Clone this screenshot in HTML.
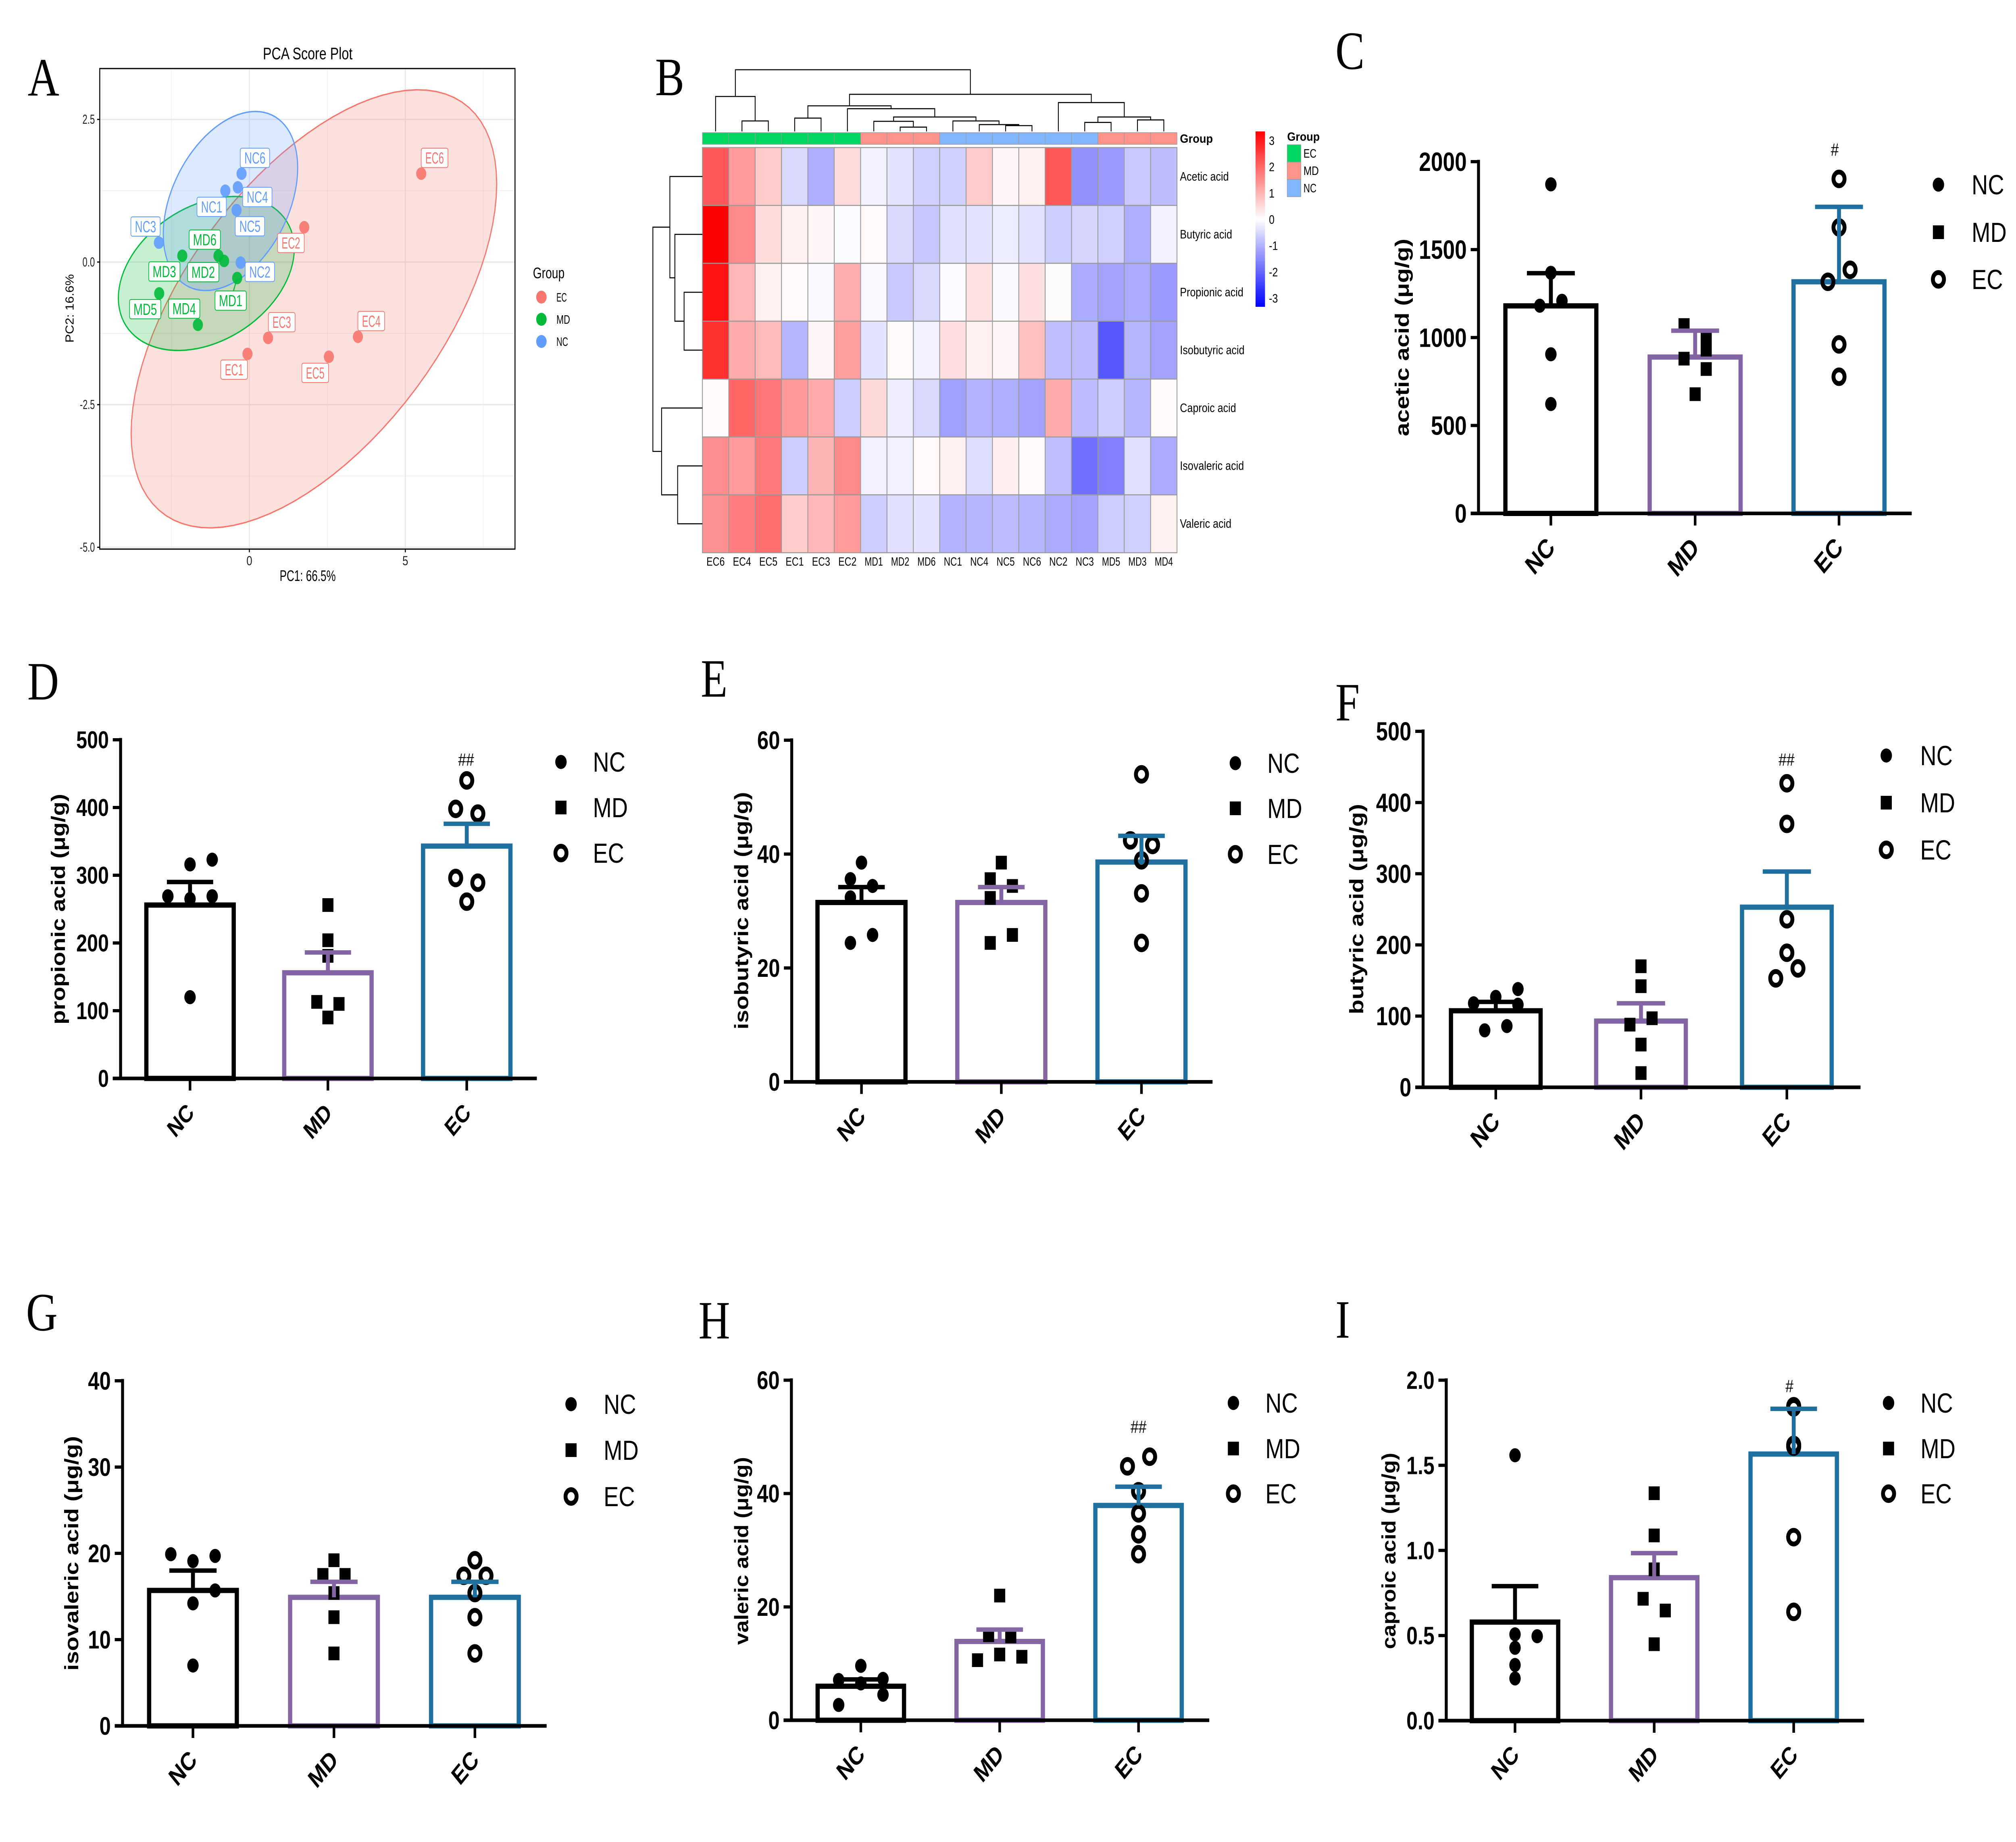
<!DOCTYPE html>
<html lang="en">
<head>
<meta charset="utf-8">
<title>SCFA PCA, heatmap and bar charts</title>
<style>
html,body{margin:0;padding:0;background:#fff;width:100%;overflow-x:hidden;}
svg{display:block;width:100%;height:4569px;font-family:"Liberation Sans",sans-serif;}
</style>
</head>
<body>
<svg id="figure" xmlns="http://www.w3.org/2000/svg" viewBox="0 0 6185 4569" preserveAspectRatio="none">
<rect x="0" y="0" width="6185" height="4569" fill="#fff"/>
</svg>
<script>
/* ---------- bar chart data ---------- */
const groups = ['NC', 'MD', 'EC'];

const aceticTicks = ['0', '500', '1000', '1500', '2000'];
const aceticMeans = [1180, 889, 1317];
const aceticUpper = [1366, 1039, 1743];
const aceticNC = [1871, 1368, 1209, 1181, 905, 622];
const aceticMD = [1071, 1006, 931, 880, 821, 678];
const aceticEC = [1902, 1626, 1385, 1317, 961, 777];
const aceticNCJitter = [0, 0, 1, -1, 0, 0];
const aceticMDJitter = [-1, 1, 1, -1, 1, 0];
const aceticECJitter = [0, 0, 1, -1, 0, 0];

const propionicTicks = ['0', '100', '200', '300', '400', '500'];
const propionicMeans = [256, 156, 343];
const propionicUpper = [290, 186, 376];
const propionicNC = [316, 323, 269, 265, 269, 120];
const propionicMD = [256, 204, 181, 113, 110, 90];
const propionicEC = [440, 398, 391, 296, 289, 261];
const propionicNCJitter = [0, 2, -2, 0, 2, 0];
const propionicMDJitter = [0, 0, 0, -1, 1, 0];
const propionicECJitter = [0, -1, 1, -1, 1, 0];

const isobutyricTicks = ['0', '20', '40', '60'];
const isobutyricMeans = [31.5, 31.5, 38.6];
const isobutyricUpper = [34.2, 34.2, 43.2];
const isobutyricNC = [38.5, 35.6, 34.4, 32.4, 25.8, 24.4];
const isobutyricMD = [38.5, 35.6, 34.4, 32.3, 25.8, 24.4];
const isobutyricEC = [54, 42.4, 41.6, 38.9, 33.1, 24.4];
const isobutyricNCJitter = [0, -1, 1, -1, 1, -1];
const isobutyricMDJitter = [0, -1, 1, -1, 1, -1];
const isobutyricECJitter = [0, -1, 1, 0, 0, 0];

const butyricTicks = ['0', '100', '200', '300', '400', '500'];
const butyricMeans = [107.5, 93, 253];
const butyricUpper = [120, 118, 303];
const butyricNC = [138, 127, 118, 116, 86, 80];
const butyricMD = [170, 142, 97, 88, 60, 20];
const butyricEC = [427, 370, 236, 189, 167, 153];
const butyricNCJitter = [2, 0, -2, 2, 1, -1];
const butyricMDJitter = [0, 0, 1, -1, 0, 0];
const butyricECJitter = [0, 0, 0, 0, 1, -1];

const isovalericTicks = ['0', '10', '20', '30', '40'];
const isovalericMeans = [15.7, 14.9, 14.9];
const isovalericUpper = [18, 16.7, 16.7];
const isovalericNC = [19.9, 19.7, 19.1, 15.7, 14.2, 7.0];
const isovalericMD = [19.2, 17.5, 17.5, 15.4, 12.6, 8.4];
const isovalericEC = [19.2, 17.4, 17.4, 15.4, 12.6, 8.4];
const isovalericNCJitter = [-2, 2, 0, 2, 0, 0];
const isovalericMDJitter = [0, -1, 1, 0, 0, 0];
const isovalericECJitter = [0, -1, 1, 0, 0, 0];

const valericTicks = ['0', '20', '40', '60'];
const valericMeans = [6.0, 13.9, 37.9];
const valericUpper = [7.2, 16, 41.2];
const valericNC = [9.6, 7.1, 7.3, 6.5, 4.5, 2.7];
const valericMD = [22, 15, 14.8, 11.6, 11.2, 10.6];
const valericEC = [46.5, 44.8, 40.4, 36.5, 32.8, 29.3];
const valericNCJitter = [0, -2, 2, 0, 2, -2];
const valericMDJitter = [0, -1, 1, 0, 2, -2];
const valericECJitter = [1, -1, 0, 0, 0, 0];

const caproicTicks = ['0.0', '0.5', '1.0', '1.5', '2.0'];
const caproicMeans = [0.579, 0.84, 1.566];
const caproicUpper = [0.79, 0.984, 1.832];
const caproicNC = [1.559, 0.507, 0.496, 0.428, 0.327, 0.248];
const caproicMD = [1.336, 1.088, 0.889, 0.716, 0.647, 0.449];
const caproicEC = [1.847, 1.84, 1.62, 1.61, 1.078, 0.639];
const caproicNCJitter = [0, 0, 2, 0, 0, 0];
const caproicMDJitter = [0, 0, 0, -1, 1, 0];
const caproicECJitter = [0, 0, 0, 0, 0, 0];

/* ---------- PCA data ---------- */
const pcaSamples = ['EC1','EC2','EC3','EC4','EC5','EC6','MD1','MD2','MD3','MD4','MD5','MD6','NC1','NC2','NC3','NC4','NC5','NC6'];
const pcaGroups = ['EC','EC','EC','EC','EC','EC','MD','MD','MD','MD','MD','MD','NC','NC','NC','NC','NC','NC'];
const pcaPC1 = [-0.06, 1.76, 0.60, 3.48, 2.55, 5.51, -0.39, -0.81, -2.15, -1.65, -2.89, -0.99, -0.77, -0.28, -2.90, -0.37, -0.41, -0.25];
const pcaPC2 = [-1.61, 0.61, -1.33, -1.31, -1.66, 1.55, -0.28, 0.02, 0.11, -1.10, -0.55, 0.11, 1.25, -0.01, 0.34, 1.31, 0.91, 1.55];
const pcaEllipseGroups = ['EC', 'MD', 'NC'];
const pcaEllipseCenterX = [2.07, -1.38, -0.605];
const pcaEllipseCenterY = [-0.82, -0.2, 1.07];
const pcaEllipseSpreadX = [5.86, 2.82, 2.155];
const pcaEllipseSpreadY = [3.84, 1.35, 1.57];
const pcaEllipseCorr = [0.57, 0.32, 0.37];
const pcaXTicks = ['0', '5'];
const pcaYTicks = ['2.5', '0.0', '-2.5', '-5.0'];

/* ---------- heatmap data ---------- */
const heatColumns = ['EC6','EC4','EC5','EC1','EC3','EC2','MD1','MD2','MD6','NC1','NC4','NC5','NC6','NC2','NC3','MD5','MD3','MD4'];
const heatColumnGroups = ['EC','EC','EC','EC','EC','EC','MD','MD','MD','NC','NC','NC','NC','NC','NC','MD','MD','MD'];
const heatRows = ['Acetic acid','Butyric acid','Propionic acid','Isobutyric acid','Caproic acid','Isovaleric acid','Valeric acid'];
const heatAcetic = [2.2,1.3,0.67,-0.5,-1.05,0.45,-0.2,-0.35,-0.6,-0.6,0.67,0.1,0.2,2.2,-1.45,-1.3,-0.7,-0.85];
const heatButyric = [3.3,1.55,0.45,0.2,0.1,-0.05,0.08,-0.5,-0.75,-0.4,-0.35,-0.25,-0.38,-0.65,-0.55,-0.6,-1.05,-0.17];
const heatPropionic = [3.1,0.95,0.2,0.05,-0.08,1.05,-0.08,-0.7,-0.5,-0.06,0.37,-0.08,0.4,-0.04,-1.1,-1.2,-1.1,-1.3];
const heatIsobutyric = [2.7,1.1,0.9,-0.95,0.1,1.25,-0.35,0.05,-0.2,0.42,0.2,0.1,0.83,-0.83,-0.88,-2.2,-0.95,-1.2];
const heatCaproic = [0.05,2.0,1.77,1.35,1.1,-0.65,0.5,-0.23,-0.5,-1.25,-1.0,-1.05,-1.2,1.1,-0.88,-0.65,-0.95,0.05];
const heatIsovaleric = [1.5,1.3,1.75,-0.65,0.98,1.55,-0.2,-0.2,0.08,0.2,-0.45,0.22,0.06,-0.83,-1.9,-1.65,-0.4,-1.1];
const heatValeric = [1.45,1.7,1.9,0.67,0.93,1.3,-0.65,-0.4,-0.35,-1.0,-0.95,-0.88,-0.95,-1.1,-1.2,-0.65,-0.6,0.2];
const heatScaleTicks = ['3', '2', '1', '0', '-1', '-2', '-3'];
/* dendrograms: [distance, left, right]; a bare number is a leaf index */
const columnTree = [10,
  [5.67, 0, [1.70, 1, 2]],
  [6.02,
    [4.15, [2.16, 3, 4], [3.68, 5, [2.34, [1.64, 6, [0.70, 7, 8]], [1.70, 9, [1.11, 10, [0.94, 11, 12]]]]]],
    [4.68, 13, [2.34, [1.46, 14, 15], [1.87, 16, 17]]]
  ]
];
const rowTree = [10,
  [6.57, 0, [5.56, 1, [3.70, 2, 3]]],
  [8.24, 4, [5.0, 5, 6]]
];

/* ---------- layout (pixels, separate from data) ---------- */
const barColors = ['#000000', '#8566A5', '#1F6F9F'];
const pointKinds = ['circle', 'square', 'ring'];
const jitterStep = 34;
const barPanels = [
  {key:'acetic', letter:'C', lx:4097, ly:171, title:'acetic acid (μg/g)', tx:4306, ty:837, tl:490, x0:4536, y0:1273.5, top:401, end:5865, c:[4758,5200.6,5642], bw:292, cap:147, fs:66,
   ticks:aceticTicks, means:aceticMeans, upper:aceticUpper, pts:[aceticNC,aceticMD,aceticEC], jit:[aceticNCJitter,aceticMDJitter,aceticECJitter],
   legX:5947, legTX:6049, legY:[458,576,693], hash:'#', hx:5629, hy:386},
  {key:'propionic', letter:'D', lx:84, ly:1735, title:'propionic acid (μg/g)', tx:183, ty:2255, tl:572, x0:370, y0:2675, top:1835, end:1647, c:[583,1006,1432], bw:281, cap:142, fs:60,
   ticks:propionicTicks, means:propionicMeans, upper:propionicUpper, pts:[propionicNC,propionicMD,propionicEC], jit:[propionicNCJitter,propionicMDJitter,propionicECJitter],
   legX:1721, legTX:1819, legY:[1890,2003,2116], hash:'##', hx:1430, hy:1899},
  {key:'isobutyric', letter:'E', lx:2150, ly:1728, title:'isobutyric acid (μg/g)', tx:2279, ty:2259, tl:589, x0:2429, y0:2683.5, top:1836, end:3720, c:[2643,3072,3502], bw:283, cap:143, fs:63,
   ticks:isobutyricTicks, means:isobutyricMeans, upper:isobutyricUpper, pts:[isobutyricNC,isobutyricMD,isobutyricEC], jit:[isobutyricNCJitter,isobutyricMDJitter,isobutyricECJitter],
   legX:3790, legTX:3888, legY:[1893,2005,2119], hash:'', hx:0, hy:0},
  {key:'butyric', letter:'F', lx:4097, ly:1787, title:'butyric acid (μg/g)', tx:4166, ty:2255, tl:522, x0:4366, y0:2697, top:1814, end:5708, c:[4589,5034.5,5482], bw:288, cap:148, fs:65,
   ticks:butyricTicks, means:butyricMeans, upper:butyricUpper, pts:[butyricNC,butyricMD,butyricEC], jit:[butyricNCJitter,butyricMDJitter,butyricECJitter],
   legX:5787, legTX:5891, legY:[1874,1991,2108], hash:'##', hx:5481, hy:1899},
  {key:'isovaleric', letter:'G', lx:80, ly:3300, title:'isovaleric acid (μg/g)', tx:224, ty:3853, tl:582, x0:376, y0:4281, top:3425, end:1677, c:[592,1024.6,1457], bw:282, cap:145, fs:63,
   ticks:isovalericTicks, means:isovalericMeans, upper:isovalericUpper, pts:[isovalericNC,isovalericMD,isovalericEC], jit:[isovalericNCJitter,isovalericMDJitter,isovalericECJitter],
   legX:1752, legTX:1852, legY:[3483,3597,3712], hash:'', hx:0, hy:0},
  {key:'valeric', letter:'H', lx:2143, ly:3320, title:'valeric acid (μg/g)', tx:2279, ty:3847, tl:466, x0:2428, y0:4267, top:3423.5, end:3710, c:[2641,3067,3493], bw:278, cap:143, fs:63,
   ticks:valericTicks, means:valericMeans, upper:valericUpper, pts:[valericNC,valericMD,valericEC], jit:[valericNCJitter,valericMDJitter,valericECJitter],
   legX:3784, legTX:3882, legY:[3480,3593,3705], hash:'##', hx:3493, hy:3554},
  {key:'caproic', letter:'I', lx:4097, ly:3318, title:'caproic acid (μg/g)', tx:4265, ty:3847, tl:487, x0:4437, y0:4268, top:3423.5, end:5719, c:[4648,5075,5503], bw:278, cap:143, fs:62,
   ticks:caproicTicks, means:caproicMeans, upper:caproicUpper, pts:[caproicNC,caproicMD,caproicEC], jit:[caproicNCJitter,caproicMDJitter,caproicECJitter],
   legX:5794, legTX:5892, legY:[3480,3593,3705], hash:'#', hx:5490, hy:3453}
];
const pcaLabelOffsets = {EC1:[-41,39],EC2:[-41,39],EC3:[42,-39],EC4:[41,-39],EC5:[-42,40],EC6:[41,-39],MD1:[-20,56],MD2:[-64,28],MD3:[-55,39],MD4:[-42,-40],MD5:[-43,39],MD6:[-42,-40],NC1:[-42,40],NC2:[59,23],NC3:[-41,-40],NC4:[60,24],NC5:[41,40],NC6:[41,-39]};
const pcaColors = {EC:'#F8766D', MD:'#00BA38', NC:'#619CFF'};
const heatGroupColors = {EC:'#00D65F', MD:'#FF9289', NC:'#82B6FF'};

/* ---------- helpers ---------- */
const NS = 'http://www.w3.org/2000/svg';
const figure = document.getElementById('figure');
function make(tag, attrs, parent) {
  const el = document.createElementNS(NS, tag);
  for (const k in attrs) el.setAttribute(k, attrs[k]);
  parent.appendChild(el);
  return el;
}
function makeText(str, attrs, parent) {
  const el = make('text', attrs, parent);
  el.textContent = str;
  return el;
}
function makeGroup(parent) {
  return make('g', {}, parent);
}
function fitAttrs(attrs, len) {
  attrs.textLength = len;
  attrs.lengthAdjust = 'spacingAndGlyphs';
  return attrs;
}

/* ---------- panel letters ---------- */
const panelLetters = ['A', 'B'];
const panelLetterX = [85, 2010];
const panelLetterY = [237, 236];
panelLetters.forEach(function (letter, i) {
  const el = makeText(letter, {x: panelLetterX[i], y: panelLetterY[i], 'font-family': '"Liberation Serif",serif', 'font-size': 134, fill: '#000'}, figure);
  
  
});

/* ---------- Panel A: PCA ---------- */
(function drawPCA() {
  const plot = {l: 306, r: 1580, t: 170, b: 1362};
  const xS = function (v) { return 765 + v * 95.7; };
  const yS = function (v) { return 650 - v * 141.5; };
  const g = makeGroup(figure);
  
  

  const bg = make('rect', {x: plot.l, y: plot.t, width: plot.r - plot.l, height: plot.b - plot.t, fill: '#fff'}, g);
  
  

  [-2.5, 2.5, 7.5].forEach(function (v) {
    const el = make('line', {x1: xS(v), x2: xS(v), y1: plot.t, y2: plot.b, stroke: '#eeeeee', 'stroke-width': 1.6}, g);
    
    
  });
  [1.25, -1.25, -3.75].forEach(function (v) {
    const el = make('line', {x1: plot.l, x2: plot.r, y1: yS(v), y2: yS(v), stroke: '#eeeeee', 'stroke-width': 1.6}, g);
    
    
  });
  pcaXTicks.forEach(function (t) {
    const v = Number(t);
    const grid = make('line', {x1: xS(v), x2: xS(v), y1: plot.t, y2: plot.b, stroke: '#e8e8e8', 'stroke-width': 3.2}, g);
    
    
    const tick = make('line', {x1: xS(v), x2: xS(v), y1: plot.b, y2: plot.b + 8, stroke: '#000', 'stroke-width': 3}, g);
    
    
    const lab = makeText(t, {x: xS(v), y: 1402, 'text-anchor': 'middle', 'font-size': 32, fill: '#222'}, g);
    
    
  });
  pcaYTicks.forEach(function (t) {
    const v = Number(t);
    const grid = make('line', {x1: plot.l, x2: plot.r, y1: yS(v), y2: yS(v), stroke: '#e8e8e8', 'stroke-width': 3.2}, g);
    
    
    const tick = make('line', {x1: plot.l - 8, x2: plot.l, y1: yS(v), y2: yS(v), stroke: '#000', 'stroke-width': 3}, g);
    
    
    const lab = makeText(t, fitAttrs({x: 291, y: yS(v) + 11, 'text-anchor': 'end', 'font-size': 32, fill: '#222'}, t.length > 3 ? 46 : 38), g);
    
    
  });

  pcaEllipseGroups.forEach(function (grp, i) {
    const phi = Math.acos(pcaEllipseCorr[i]);
    const pts = [];
    for (let k = 0; k < 90; k++) {
      const t = k / 90 * 2 * Math.PI;
      const px = pcaEllipseCenterX[i] + pcaEllipseSpreadX[i] * Math.cos(t);
      const py = pcaEllipseCenterY[i] + pcaEllipseSpreadY[i] * Math.cos(t - phi);
      pts.push(xS(px).toFixed(1) + ',' + yS(py).toFixed(1));
    }
    const el = make('polygon', {points: pts.join(' '), fill: pcaColors[grp], 'fill-opacity': 0.22, stroke: pcaColors[grp], 'stroke-width': 3.4}, g);
    
    
  });

  pcaSamples.forEach(function (s, i) {
    const el = make('circle', {cx: xS(pcaPC1[i]), cy: yS(pcaPC2[i]), r: 15.5, fill: pcaColors[pcaGroups[i]], 'fill-opacity': 0.9}, g);
    
    
  });
  const md1 = pcaSamples.indexOf('MD1');
  const connector = make('line', {x1: xS(pcaPC1[md1]), y1: yS(pcaPC2[md1]), x2: xS(pcaPC1[md1]) + pcaLabelOffsets.MD1[0], y2: yS(pcaPC2[md1]) + pcaLabelOffsets.MD1[1], stroke: pcaColors.MD, 'stroke-width': 3}, g);
  
  

  const boxW = {EC: 82, MD: 96, NC: 90};
  const txtW = {EC: 57, MD: 72, NC: 65};
  pcaSamples.forEach(function (s, i) {
    const grp = pcaGroups[i];
    const cx = xS(pcaPC1[i]) + pcaLabelOffsets[s][0];
    const cy = yS(pcaPC2[i]) + pcaLabelOffsets[s][1];
    const box = make('rect', {x: cx - boxW[grp] / 2, y: cy - 24, width: boxW[grp], height: 48, rx: 5, ry: 5, fill: '#fff', stroke: pcaColors[grp], 'stroke-width': 2}, g);
    
    
    const lab = makeText(s, fitAttrs({x: cx, y: cy + 14, 'text-anchor': 'middle', 'font-size': 40, fill: pcaColors[grp]}, txtW[grp]), g);
    
    
  });

  const frame = make('rect', {x: plot.l, y: plot.t, width: plot.r - plot.l, height: plot.b - plot.t, fill: 'none', stroke: '#000', 'stroke-width': 3}, g);
  
  

  const title = makeText('PCA Score Plot', fitAttrs({x: 944, y: 147, 'text-anchor': 'middle', 'font-size': 42, fill: '#000'}, 275), g);
  
  
  const xTitle = makeText('PC1: 66.5%', fitAttrs({x: 944, y: 1441, 'text-anchor': 'middle', 'font-size': 38, fill: '#000'}, 172), g);
  
  
  const yTitle = makeText('PC2: 16.6%', fitAttrs({'text-anchor': 'middle', 'font-size': 36, fill: '#000', transform: 'translate(226,765) rotate(-90)'}, 170), g);
  
  

  const legTitle = makeText('Group', fitAttrs({x: 1635, y: 690, 'font-size': 38, fill: '#000'}, 97), g);
  
  
  const legendWidths = [32, 42, 36];
  pcaEllipseGroups.forEach(function (grp, i) {
    const ky = 737 + i * 55;
    const key = make('circle', {cx: 1661, cy: ky, r: 16, fill: pcaColors[grp]}, g);
    
    
    const lab = makeText(grp, fitAttrs({x: 1707, y: ky + 11, 'font-size': 31, fill: '#000'}, legendWidths[i]), g);
    
    
  });
})();

/* ---------- Panel B: heatmap ---------- */
(function drawHeatmap() {
  const heatMatrix = [heatAcetic, heatButyric, heatPropionic, heatIsobutyric, heatCaproic, heatIsovaleric, heatValeric];
  const left = 2155, top = 366, cw = 1456 / 18, ch = 1005 / 7;
  const colX = function (i) { return left + cw * (i + 0.5); };
  const rowY = function (i) { return top + ch * (i + 0.5); };
  const color = function (v) {
    const t = Math.min(Math.abs(v) / 3.33, 1);
    const c = Math.round(255 * (1 - t));
    return v >= 0 ? 'rgb(255,' + c + ',' + c + ')' : 'rgb(' + c + ',' + c + ',255)';
  };
  const g = makeGroup(figure);
  
  

  heatMatrix.forEach(function (row, r) {
    row.forEach(function (v, c) {
      const el = make('rect', {x: left + c * cw, y: top + r * ch, width: cw, height: ch, fill: color(v), stroke: '#9a9a9a', 'stroke-width': 2.5}, g);
      
      
    });
  });
  heatColumns.forEach(function (name, c) {
    const bar = make('rect', {x: left + c * cw, y: 329, width: cw, height: 29, fill: heatGroupColors[heatColumnGroups[c]], stroke: '#9a9a9a', 'stroke-width': 1.5}, g);
    
    
    const lab = makeText(name, fitAttrs({x: colX(c), y: 1403, 'text-anchor': 'middle', 'font-size': 30, fill: '#000'}, 56), g);
    
    
  });
  heatRows.forEach(function (name, r) {
    const lab = makeText(name, {x: 3620, y: rowY(r) + 10, 'font-size': 31, fill: '#000'}, g);
    
    
  });
  const annotationTitle = makeText('Group', fitAttrs({x: 3620, y: 354, 'font-size': 30, 'font-weight': 'bold', fill: '#000'}, 101), g);
  
  

  /* dendrograms */
  const colDist = function (d) { return 326 - d * 15.3; };
  const rowDist = function (d) { return 2155 - d * 15.2; };
  function drawColumnTree(node) {
    if (typeof node === 'number') return {x: colX(node), y: colDist(0)};
    const a = drawColumnTree(node[1]);
    const b = drawColumnTree(node[2]);
    const y = colDist(node[0]);
    const el = make('polyline', {points: [a.x, a.y, a.x, y, b.x, y, b.x, b.y].join(' '), fill: 'none', stroke: '#000', 'stroke-width': 2.6}, g);
    
    
    return {x: (a.x + b.x) / 2, y: y};
  }
  function drawRowTree(node) {
    if (typeof node === 'number') return {x: rowDist(0), y: rowY(node)};
    const a = drawRowTree(node[1]);
    const b = drawRowTree(node[2]);
    const x = rowDist(node[0]);
    const el = make('polyline', {points: [a.x, a.y, x, a.y, x, b.y, b.x, b.y].join(' '), fill: 'none', stroke: '#000', 'stroke-width': 2.6}, g);
    
    
    return {x: x, y: (a.y + b.y) / 2};
  }
  drawColumnTree(columnTree);
  drawRowTree(rowTree);

  /* colour scale */
  const defs = make('defs', {}, g);
  const grad = make('linearGradient', {id: 'heat-scale', x1: 0, y1: 0, x2: 0, y2: 1}, defs);
  make('stop', {offset: '0%', 'stop-color': '#ff0000'}, grad);
  make('stop', {offset: '50%', 'stop-color': '#ffffff'}, grad);
  make('stop', {offset: '100%', 'stop-color': '#0000ff'}, grad);
  const bar = make('rect', {x: 3852, y: 326, width: 29, height: 435, fill: 'url(#heat-scale)'}, g);
  
  
  heatScaleTicks.forEach(function (t) {
    const y = 544 - Number(t) * 65.2;
    const lab = makeText(t, {x: 3893, y: y + 11, 'font-size': 31, fill: '#000'}, g);
    
    
  });
  const legendTitle = makeText('Group', fitAttrs({x: 3949, y: 349, 'font-size': 30, 'font-weight': 'bold', fill: '#000'}, 100), g);
  
  
  pcaEllipseGroups.forEach(function (grp, i) {
    const swatch = make('rect', {x: 3949, y: 359 + i * 43, width: 42, height: 43, fill: heatGroupColors[grp], stroke: '#9a9a9a', 'stroke-width': 1.5}, g);
    
    
    const lab = makeText(grp, fitAttrs({x: 3999, y: 391 + i * 43, 'font-size': 31, fill: '#000'}, grp === 'MD' ? 47 : 40), g);
    
    
  });
})();

/* ---------- Panels C-I: bar charts ---------- */
function drawMarker(kind, x, y, parent) {
  if (kind === 'circle') return make('circle', {cx: x, cy: y, r: 17.5, fill: '#000'}, parent);
  if (kind === 'square') return make('rect', {x: x - 17, y: y - 17, width: 34, height: 34, fill: '#000'}, parent);
  return make('circle', {cx: x, cy: y, r: 17, fill: 'none', stroke: '#000', 'stroke-width': 12}, parent);
}
barPanels.forEach(function (p) {
  const maxV = Number(p.ticks[p.ticks.length - 1]);
  const yS = function (v) { return p.y0 - v / maxV * (p.y0 - p.top); };
  const g = makeGroup(figure);
  
  

  const letter = makeText(p.letter, {x: p.lx, y: p.ly, 'font-family': '"Liberation Serif",serif', 'font-size': 134, fill: '#000'}, g);
  
  

  groups.forEach(function (grp, i) {
    const bar = make('rect', {x: p.c[i] - p.bw / 2 + 6.5, y: yS(p.means[i]), width: p.bw - 13, height: p.y0 - yS(p.means[i]), fill: '#fff', stroke: barColors[i], 'stroke-width': 13}, g);
    
    
  });
  groups.forEach(function (grp, i) {
    p.pts[i].forEach(function (v, k) {
      const mark = drawMarker(pointKinds[i], p.c[i] + p.jit[i][k] * jitterStep, yS(v), g);
      
      
    });
  });
  groups.forEach(function (grp, i) {
    const stem = make('line', {x1: p.c[i], x2: p.c[i], y1: yS(p.means[i]), y2: yS(p.upper[i]), stroke: barColors[i], 'stroke-width': 12}, g);
    
    
    const cap = make('line', {x1: p.c[i] - p.cap / 2, x2: p.c[i] + p.cap / 2, y1: yS(p.upper[i]), y2: yS(p.upper[i]), stroke: barColors[i], 'stroke-width': 11}, g);
    
    
  });

  const yAxis = make('line', {x1: p.x0, x2: p.x0, y1: p.y0 + 4.5, y2: p.top - 4.5, stroke: '#000', 'stroke-width': 9}, g);
  
  
  const xAxis = make('line', {x1: p.x0 - 24, x2: p.end, y1: p.y0, y2: p.y0, stroke: '#000', 'stroke-width': 9}, g);
  
  

  p.ticks.forEach(function (t) {
    const v = Number(t);
    const tick = make('line', {x1: p.x0 - 24, x2: p.x0, y1: yS(v), y2: yS(v), stroke: '#000', 'stroke-width': 8}, g);
    
    
    const lab = makeText(t, {x: p.x0 - 36, y: yS(v) + p.fs * 0.35, 'text-anchor': 'end', 'font-size': p.fs, 'font-weight': 'bold', fill: '#000'}, g);
    
    
  });
  groups.forEach(function (grp, i) {
    const tick = make('line', {x1: p.c[i], x2: p.c[i], y1: p.y0, y2: p.y0 + 30, stroke: '#000', 'stroke-width': 8}, g);
    
    
    const lab = makeText(grp, {'text-anchor': 'end', 'font-size': p.fs, 'font-weight': 'bold', fill: '#000', transform: 'translate(' + (p.c[i] + 16) + ',' + (p.y0 + 88) + ') rotate(-45)'}, g);
    
    
  });

  const title = makeText(p.title, fitAttrs({'text-anchor': 'middle', 'font-size': 60, 'font-weight': 'bold', fill: '#000', transform: 'translate(' + (p.tx + 16) + ',' + p.ty + ') rotate(-90)'}, p.tl), g);
  
  

  if (p.hash) {
    const hash = makeText(p.hash, {x: p.hx, y: p.hy, 'text-anchor': 'middle', 'font-size': 44, fill: '#000'}, g);
    
    
  }

  groups.forEach(function (grp, i) {
    const key = drawMarker(pointKinds[i], p.legX, p.legY[i], g);
    
    
    const lab = makeText(grp, {x: p.legTX, y: p.legY[i] + 24, 'font-size': 69, fill: '#000'}, g);
    
    
  });
});
</script>
</body>
</html>
